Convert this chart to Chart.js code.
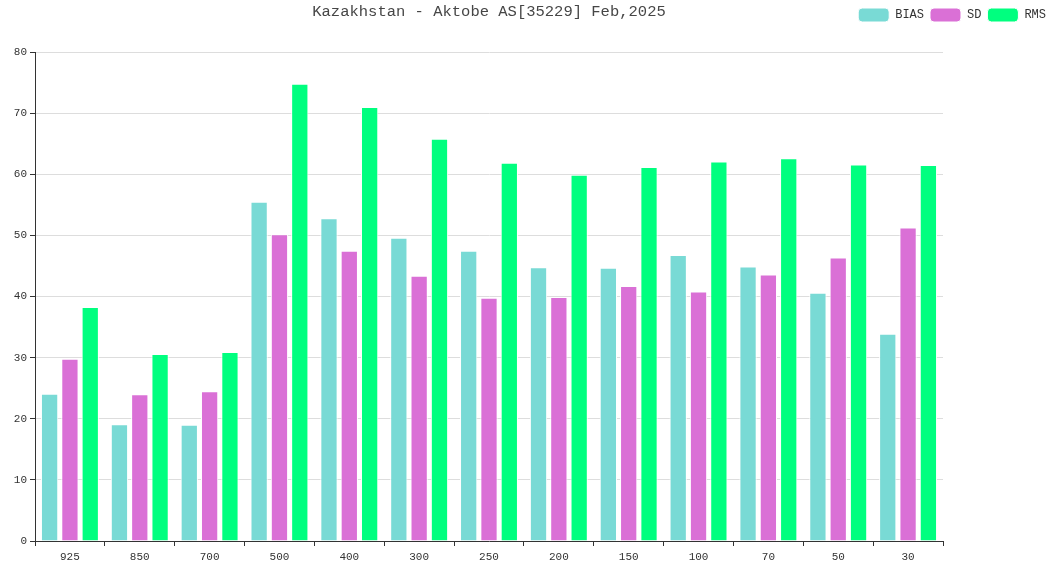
<!DOCTYPE html>
<html lang="en">
<head>
  <meta charset="UTF-8" />
  <title>Kazakhstan - Aktobe AS[35229] Feb,2025</title>
  <script src="https://cdn.jsdelivr.net/npm/chart.js"></script>
  <style>
    html, body { margin: 0; padding: 0; background: #fff; }
    #wrap { width: 1052px; height: 567px; }
  </style>
</head>
<body>
  <div id="wrap"><canvas id="chart"></canvas></div>
  <script>
    const TITLE = "Kazakhstan - Aktobe AS[35229] Feb,2025";
    const levels = ["925", "850", "700", "500", "400", "300", "250", "200", "150", "100", "70", "50", "30"];
    const bias = [24.1, 19.1, 19.0, 55.5, 52.8, 49.6, 47.5, 44.8, 44.7, 46.8, 44.9, 40.6, 33.9];
    const sd   = [29.8, 24.0, 24.5, 50.2, 47.5, 43.4, 39.8, 39.9, 41.7, 40.8, 43.6, 46.4, 51.3];
    const rms  = [38.3, 30.6, 30.9, 74.8, 71.0, 65.8, 61.9, 59.9, 61.2, 62.1, 62.6, 61.6, 61.5];
    const yTicks = [0, 10, 20, 30, 40, 50, 60, 70, 80];

    const FONT = "'Liberation Mono', 'DejaVu Sans Mono', monospace";

    // title centred over the plot area
    const titlePlugin = {
      id: "plotTitle",
      afterDraw(chart) {
        const { ctx, chartArea } = chart;
        ctx.save();
        ctx.font = "15.5px " + FONT;
        ctx.fillStyle = "#464646";
        ctx.textAlign = "center";
        ctx.textBaseline = "middle";
        ctx.fillText(TITLE, (chartArea.left + chartArea.right) / 2, 12);
        ctx.restore();
      }
    };

    // extra room under the legend so the plot starts lower
    const legendGap = {
      id: "legendGap",
      beforeInit(chart) {
        const fit = chart.legend.fit;
        chart.legend.fit = function () {
          fit.bind(chart.legend)();
          this.height += 20;
        };
      }
    };

    const barOpts = { borderColor: "#ffffff", borderWidth: 1, categoryPercentage: 0.873, barPercentage: 0.85 };

    new Chart(document.getElementById("chart"), {
      type: "bar",
      data: {
        labels: levels,
        datasets: [
          Object.assign({ label: "BIAS", data: bias, backgroundColor: "#79dad5" }, barOpts),
          Object.assign({ label: "SD", data: sd, backgroundColor: "#da70d6" }, barOpts),
          Object.assign({ label: "RMS", data: rms, backgroundColor: "#00ff7f" }, barOpts)
        ]
      },
      options: {
        responsive: true,
        maintainAspectRatio: false,
        animation: false,
        layout: { padding: { top: 2, left: 0, right: 0, bottom: 0 } },
        plugins: {
          title: { display: false },
          tooltip: { enabled: false },
          legend: {
            position: "top",
            align: "end",
            labels: {
              boxWidth: 31,
              boxHeight: 14,
              useBorderRadius: true,
              borderRadius: 4,
              padding: 6,
              color: "#333",
              font: { family: FONT, size: 12 }
            }
          }
        },
        scales: {
          x: {
            offset: true,
            grid: { display: true, offset: true, drawOnChartArea: false, tickLength: 5, color: "#333", tickColor: "#333" },
            border: { display: true, color: "#333", width: 1 },
            ticks: { color: "#333", font: { family: FONT, size: 11 }, padding: 4, maxRotation: 0 },
            afterFit(s) { s.height = 26; }
          },
          y: {
            min: 0,
            max: 80,
            afterBuildTicks(s) { s.ticks = yTicks.map(v => ({ value: v })); },
            grid: { color: "#dddddd", tickColor: "#333", tickLength: 5 },
            border: { display: true, color: "#333", width: 1 },
            ticks: { color: "#333", font: { family: FONT, size: 11 }, padding: 3 },
            afterFit(s) { s.width = 35; }
          },
          y2: {
            position: "right",
            display: true,
            grid: { display: false },
            border: { display: false },
            ticks: { display: false },
            afterFit(s) { s.width = 109; }
          }
        }
      },
      plugins: [titlePlugin, legendGap]
    });
  </script>
</body>
</html>
